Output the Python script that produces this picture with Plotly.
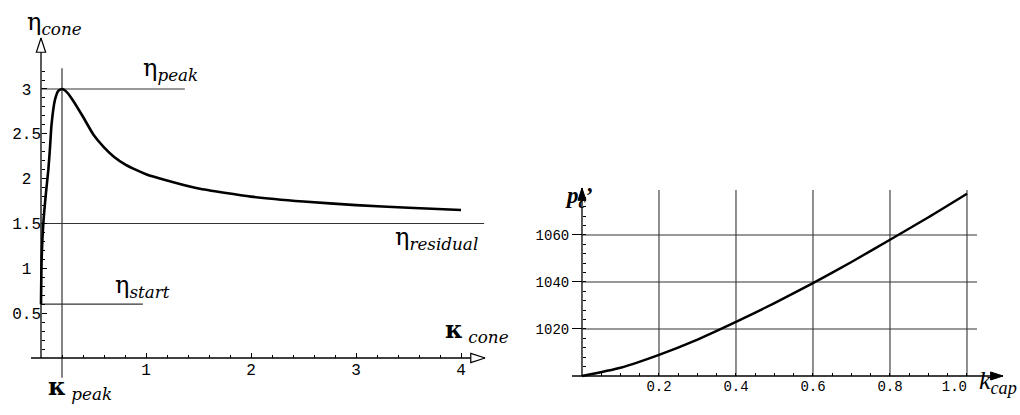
import plotly.graph_objects as go

# ---------------- left panel: cone efficiency vs cone deformation ----------------
kappa_cone = [0.0, 0.006, 0.022, 0.048, 0.07, 0.086, 0.1, 0.133, 0.165, 0.2,
              0.25, 0.3, 0.4, 0.5, 0.6, 0.7, 0.8, 0.9, 1.0, 1.2, 1.5, 2.0, 2.5, 3.0, 3.5, 4.0]
eta_cone = [0.6, 1.1, 1.5, 1.85, 2.1, 2.35, 2.6, 2.88, 2.98, 3.0,
            2.96, 2.88, 2.69, 2.49, 2.35, 2.24, 2.16, 2.10, 2.05, 1.98, 1.89, 1.80, 1.745, 1.705, 1.675, 1.65]

eta_peak = 3.0
eta_residual = 1.5
eta_start = 0.6
kappa_peak = 0.2

left_xtick_vals = [1, 2, 3, 4]
left_xtick_text = ["1", "2", "3", "4"]
left_ytick_vals = [0.5, 1, 1.5, 2, 2.5, 3]
left_ytick_text = ["0.5", "1", "1.5", "2", "2.5", "3"]

# ---------------- right panel: cap pressure vs cap hardening ----------------
k_cap = [0.0, 0.1, 0.2, 0.3, 0.4, 0.5, 0.6, 0.7, 0.8, 0.9, 1.0]
p_c = [1000, 1003.5, 1009, 1015.5, 1023, 1031, 1039.5, 1048.5, 1058, 1067.5, 1077.5]

right_xtick_vals = [0.2, 0.4, 0.6, 0.8]
right_xtick_text = ["0.2", "0.4", "0.6", "0.8"]
right_xtick_last = 1.0          # drawn left of its grid line, clear of the axis title
right_xtick_last_text = "1.0"
right_ytick_vals = [1020, 1040, 1060]
right_ytick_text = ["1020", "1040", "1060"]

# ---------------- frame geometry (axis ranges / domains) ----------------
L_XDOM, L_XR = [0.0, 0.5], [-0.3905, 4.4667]
L_YDOM, L_YR = [0.0, 1.0], [-0.6357, 3.9924]
R_XDOM, R_XR = [0.5294, 1.0], [-0.1091, 1.1377]
R_YDOM, R_YR = [0.0, 0.6145], [983.4, 1091.9]


def frac(v, rng, dom):
    return dom[0] + (v - rng[0]) / (rng[1] - rng[0]) * (dom[1] - dom[0])


INK = "black"
REF = "#333333"
NBSP = "\u00a0"
MONO = "Liberation Mono, Courier New, monospace"
TICKFONT_L = dict(family=MONO, size=16, color=INK)
TICKFONT_R = dict(family=MONO, size=14, color=INK)

# integer labels are aligned on the decimal point of the others
left_ytick_shown = [t if "." in t else t + NBSP for t in left_ytick_text]

fig = go.Figure()


def line(x, y, xa, ya, color=INK, width=1.2):
    fig.add_trace(go.Scatter(x=x, y=y, mode="lines", xaxis=xa, yaxis=ya,
                             line=dict(color=color, width=width),
                             hoverinfo="skip", showlegend=False))


# left: reference levels
line([0, 1.37], [eta_peak, eta_peak], "x", "y", REF, 1.2)
line([0, 4.22], [eta_residual, eta_residual], "x", "y", REF, 1.2)
line([0, 0.97], [eta_start, eta_start], "x", "y", REF, 1.2)
line([kappa_peak, kappa_peak], [-0.22, 3.23], "x", "y", REF, 1.2)

# left: axes with open arrow heads
line([-0.095, 4.229], [0, 0], "x", "y", INK, 1.3)
line([0, 0], [0, 3.569], "x", "y", INK, 1.3)
fig.add_trace(go.Scatter(x=[4.229, 0], y=[0, 3.569], mode="markers", xaxis="x", yaxis="y",
                         marker=dict(symbol="arrow", size=15, angle=[90, 0], color="white",
                                     line=dict(color=INK, width=1.2)),
                         hoverinfo="skip", showlegend=False, cliponaxis=False))

# left: efficiency curve
fig.add_trace(go.Scatter(x=kappa_cone, y=eta_cone, mode="lines", xaxis="x", yaxis="y",
                         line=dict(color=INK, width=2.6, shape="spline", smoothing=0.5),
                         hoverinfo="skip", showlegend=False))

# right: grid
gx, gy = [], []
for v in right_xtick_vals + [right_xtick_last]:
    gx += [v, v, None]
    gy += [1000, 1079.1, None]
for v in right_ytick_vals:
    gx += [0, 1.026, None]
    gy += [v, v, None]
line(gx, gy, "x2", "y2", REF, 1.1)

# right: axes with filled arrow heads
line([-0.026, 1.0935], [1000, 1000], "x2", "y2", INK, 1.3)
line([0, 0], [1000, 1080], "x2", "y2", INK, 1.3)
fig.add_trace(go.Scatter(x=[1.0935, 0], y=[1000, 1080], mode="markers", xaxis="x2", yaxis="y2",
                         marker=dict(symbol="arrow", size=13, angle=[90, 0], color=INK,
                                     line=dict(color=INK, width=1)),
                         hoverinfo="skip", showlegend=False, cliponaxis=False))

# right: pressure curve
fig.add_trace(go.Scatter(x=k_cap, y=p_c, mode="lines", xaxis="x2", yaxis="y2",
                         line=dict(color=INK, width=2.4, shape="spline", smoothing=0.6),
                         hoverinfo="skip", showlegend=False))

# invisible anchor so the overlaid label axis is rendered
fig.add_trace(go.Scatter(x=[right_xtick_last], y=[1000], mode="markers", xaxis="x3", yaxis="y2",
                         marker=dict(size=1, opacity=0), hoverinfo="skip", showlegend=False))

hidden = dict(showgrid=False, zeroline=False, showline=False, fixedrange=True)

fig.update_layout(
    width=1020, height=415,
    margin=dict(l=0, r=0, t=0, b=0),
    paper_bgcolor="white", plot_bgcolor="white",
    showlegend=False,
    xaxis=dict(domain=L_XDOM, range=L_XR, anchor="free",
               position=frac(0, L_YR, L_YDOM),
               tickmode="array", tickvals=left_xtick_vals, ticktext=left_xtick_text,
               ticks="inside", ticklen=5, tickwidth=1, tickcolor=INK, tickfont=TICKFONT_L,
               minor=dict(tickmode="array", tickvals=[i * 0.2 for i in range(1, 21)],
                          ticks="inside", ticklen=3, tickcolor=INK),
               **hidden),
    yaxis=dict(domain=L_YDOM, range=L_YR, anchor="free",
               position=frac(0, L_XR, L_XDOM),
               tickmode="array", tickvals=left_ytick_vals, ticktext=left_ytick_shown,
               ticks="inside", ticklen=5, tickwidth=1, tickcolor=INK, tickfont=TICKFONT_L,
               minor=dict(tickmode="array", tickvals=[i * 0.1 for i in range(1, 33)],
                          ticks="inside", ticklen=3, tickcolor=INK),
               **hidden),
    xaxis2=dict(domain=R_XDOM, range=R_XR, anchor="free",
                position=frac(1000, R_YR, R_YDOM),
                tickmode="array", tickvals=right_xtick_vals, ticktext=right_xtick_text,
                ticks="", tickfont=TICKFONT_R,
                minor=dict(tickmode="array", tickvals=[i * 0.05 for i in range(1, 21)],
                           ticks="inside", ticklen=3, tickcolor=INK),
                **hidden),
    xaxis3=dict(domain=R_XDOM, range=R_XR, anchor="free", overlaying="x2",
                position=frac(1000, R_YR, R_YDOM),
                tickmode="array", tickvals=[right_xtick_last], ticktext=[right_xtick_last_text],
                ticks="", tickfont=TICKFONT_R, ticklabelposition="outside left",
                **hidden),
    yaxis2=dict(domain=R_YDOM, range=R_YR, anchor="free",
                position=frac(0, R_XR, R_XDOM),
                tickmode="array", tickvals=right_ytick_vals, ticktext=right_ytick_text,
                ticks="outside", ticklen=10, tickwidth=1, tickcolor=INK, tickfont=TICKFONT_R,
                minor=dict(tickmode="array", tickvals=[1000 + i * 4 for i in range(1, 20)],
                           ticks="inside", ticklen=3, tickcolor=INK),
                **hidden),
)


def label(text, x, y, xa, ya, size=24, family="DejaVu Serif", xanchor="left", yanchor="middle"):
    fig.add_annotation(text=text, x=x, y=y, xref=xa, yref=ya, showarrow=False,
                       xanchor=xanchor, yanchor=yanchor,
                       font=dict(family=family, size=size, color=INK))


label("η<sub><i>cone</i></sub>", -0.15, 3.73, "x", "y")
label("η<sub><i>peak</i></sub>", 0.95, 3.22, "x", "y")
label("η<sub><i>residual</i></sub>", 3.35, 1.33, "x", "y")
label("η<sub><i>start</i></sub>", 0.69, 0.80, "x", "y")
label("<b>κ</b><sub><i> cone</i></sub>", 3.83, 0.30, "x", "y")
label("<b>κ</b><sub><i> peak</i></sub>", 0.05, -0.34, "x", "y")

label("<b><i>p</i></b><sub><b><i>c</i></b></sub><b>’</b>", -0.05, 1076, "x2", "y2",
      size=23, family="Liberation Serif")
label("<i>k</i><sub><i>cap</i></sub>", 1.026, 997.5, "x2", "y2", size=26, family="Liberation Serif")

fig.write_html("out.html")
